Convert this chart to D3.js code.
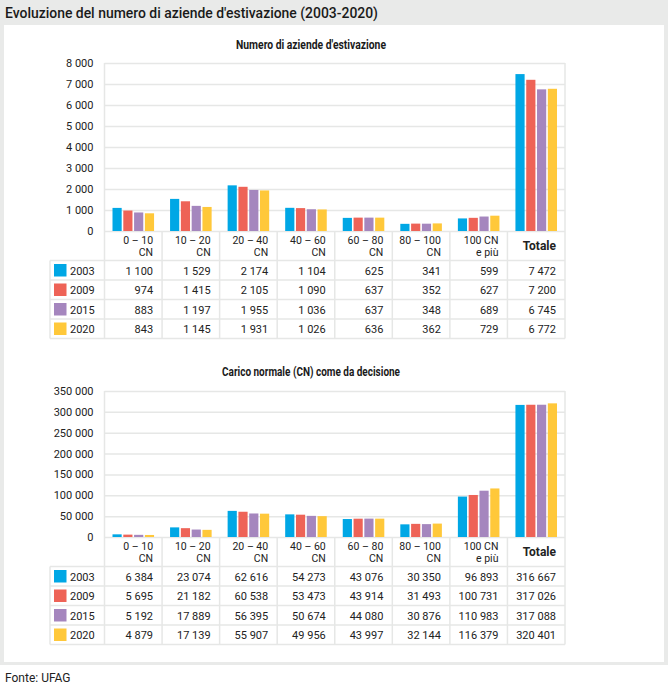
<!DOCTYPE html>
<html>
<head>
<meta charset="utf-8">
<script src="https://cdn.jsdelivr.net/npm/d3@7"></script>
<style>
  html, body { margin: 0; padding: 0; background: #fff; }
  svg { display: block; font-family: Roboto, "Noto Sans", sans-serif; }
</style>
</head>
<body>
<svg id="chart" width="668" height="686"></svg>
<script>
'use strict';
// dati
const years = ['2003', '2009', '2015', '2020'];
const colors = ['#00a7e5', '#ee6357', '#a586be', '#ffc83a'];
const catLine1 = ['0 – 10', '10 – 20', '20 – 40', '40 – 60', '60 – 80', '80 – 100', '100 CN', 'Totale'];
const catLine2 = ['CN', 'CN', 'CN', 'CN', 'CN', 'CN', 'e più', ''];

const aziende2003 = [1100, 1529, 2174, 1104, 625, 341, 599, 7472];
const aziende2009 = [974, 1415, 2105, 1090, 637, 352, 627, 7200];
const aziende2015 = [883, 1197, 1955, 1036, 637, 348, 689, 6745];
const aziende2020 = [843, 1145, 1931, 1026, 636, 362, 729, 6772];

const cn2003 = [6384, 23074, 62616, 54273, 43076, 30350, 96893, 316667];
const cn2009 = [5695, 21182, 60538, 53473, 43914, 31493, 100731, 317026];
const cn2015 = [5192, 17889, 56395, 50674, 44080, 30876, 110983, 317088];
const cn2020 = [4879, 17139, 55907, 49956, 43997, 32144, 116379, 320401];

const aziendeTicks = [0, 1000, 2000, 3000, 4000, 5000, 6000, 7000, 8000];
const cnTicks = [0, 50000, 100000, 150000, 200000, 250000, 300000, 350000];

const fmt = d3.formatLocale({ decimal: ',', thousands: ' ', grouping: [3], currency: ['', ''] }).format(',d');
const LINE = '#e6e7e6';

const svg = d3.select('#chart');

// cornice grigia
svg.append('rect').attr('x', 0).attr('y', 0).attr('width', 668).attr('height', 665).attr('fill', '#e9eae9');
svg.append('rect').attr('x', 4).attr('y', 25).attr('width', 660).attr('height', 637).attr('fill', '#fff');
svg.append('text').attr('x', 5).attr('y', 18)
  .attr('font-size', 15).attr('font-weight', 500).attr('fill', '#1a1a1a')
  .attr('textLength', 373).attr('lengthAdjust', 'spacingAndGlyphs')
  .text("Evoluzione del numero di aziende d'estivazione (2003-2020)");
svg.append('text').attr('x', 5).attr('y', 682)
  .attr('font-size', 12).attr('fill', '#222').text('Fonte: UFAG');

function drawPanel(opt) {
  const left = 104.5, right = 565, tableLeft = 50;
  const headH = 29.5, rowH = 19.5;
  const tableBottom = opt.bottom + headH + rowH * years.length;
  const g = svg.append('g');

  g.append('text').attr('x', 311).attr('y', opt.titleY).attr('text-anchor', 'middle')
    .attr('font-size', 12).attr('font-weight', 700).attr('fill', '#1a1a1a')
    .attr('textLength', opt.titleW).attr('lengthAdjust', 'spacingAndGlyphs')
    .text(opt.title);

  const x = d3.scaleBand().domain(d3.range(catLine1.length)).range([left, right]);
  const x1 = d3.scaleBand().domain(years).range([8, x.bandwidth() - 8]).paddingInner(0.15);
  const y = d3.scaleLinear().domain([0, d3.max(opt.ticks)]).range([opt.bottom, opt.top]);

  // griglia + etichette asse
  const ax = g.append('g').attr('transform', `translate(${left},0)`)
    .call(d3.axisLeft(y).tickValues(opt.ticks).tickFormat(fmt)
      .tickSizeInner(-(right - left)).tickSizeOuter(0).tickPadding(11));
  ax.select('.domain').remove();
  ax.selectAll('line').attr('stroke', LINE).attr('stroke-width', 1.5);
  ax.selectAll('text').attr('font-size', 11).attr('fill', '#222').attr('font-family', 'Roboto, sans-serif');

  // barre
  const groups = g.append('g').selectAll('g').data(d3.range(catLine1.length)).join('g')
    .attr('transform', i => `translate(${x(i)},0)`);
  groups.selectAll('rect').data(i => opt.series.map((s, k) => ({ year: years[k], k, v: s[i] }))).join('rect')
    .attr('x', d => x1(d.year)).attr('width', x1.bandwidth())
    .attr('y', d => y(d.v)).attr('height', d => y(0) - y(d.v))
    .attr('fill', d => colors[d.k]);

  // tabella: linee
  const lines = g.append('g').attr('stroke', LINE).attr('stroke-width', 1.5);
  lines.append('line').attr('x1', left).attr('x2', left).attr('y1', opt.top).attr('y2', tableBottom);
  lines.append('line').attr('x1', right).attr('x2', right).attr('y1', opt.top).attr('y2', tableBottom);
  lines.append('line').attr('x1', tableLeft).attr('x2', tableLeft).attr('y1', opt.bottom + headH).attr('y2', tableBottom);
  d3.range(1, catLine1.length).forEach(i => {
    lines.append('line').attr('x1', x(i)).attr('x2', x(i)).attr('y1', opt.bottom).attr('y2', tableBottom);
  });
  d3.range(years.length + 1).forEach(r => {
    const yy = opt.bottom + headH + r * rowH;
    lines.append('line').attr('x1', tableLeft).attr('x2', right).attr('y1', yy).attr('y2', yy);
  });

  // intestazioni categorie
  const head = g.append('g').attr('font-size', 10.5).attr('fill', '#222').attr('text-anchor', 'end');
  catLine1.forEach((t, i) => {
    const xr = x(i) + x.bandwidth() - 9;
    if (catLine2[i] === '') {
      head.append('text').attr('x', xr).attr('y', opt.bottom + headH / 2 + 4.5)
        .attr('font-weight', 700).attr('font-size', 12).text(t);
    } else {
      head.append('text').attr('x', xr).attr('y', opt.bottom + 12.5).text(t);
      head.append('text').attr('x', xr).attr('y', opt.bottom + 25).text(catLine2[i]);
    }
  });

  // righe dati
  years.forEach((yr, k) => {
    const yy = opt.bottom + headH + k * rowH;
    g.append('rect').attr('x', 54).attr('y', yy + 3.5).attr('width', 12.5).attr('height', 12.5).attr('fill', colors[k]);
    g.append('text').attr('x', 70).attr('y', yy + 14).attr('font-size', 11).attr('fill', '#222').text(yr);
    opt.series[k].forEach((v, i) => {
      g.append('text').attr('x', x(i) + x.bandwidth() - 9).attr('y', yy + 14)
        .attr('text-anchor', 'end').attr('font-size', 11).attr('fill', '#222').text(fmt(v));
    });
  });
}

drawPanel({
  title: "Numero di aziende d'estivazione", titleY: 49, titleW: 150,
  top: 63, bottom: 231, ticks: aziendeTicks,
  series: [aziende2003, aziende2009, aziende2015, aziende2020]
});
drawPanel({
  title: 'Carico normale (CN) come da decisione', titleY: 376, titleW: 178,
  top: 391, bottom: 537, ticks: cnTicks,
  series: [cn2003, cn2009, cn2015, cn2020]
});
</script>
</body>
</html>
